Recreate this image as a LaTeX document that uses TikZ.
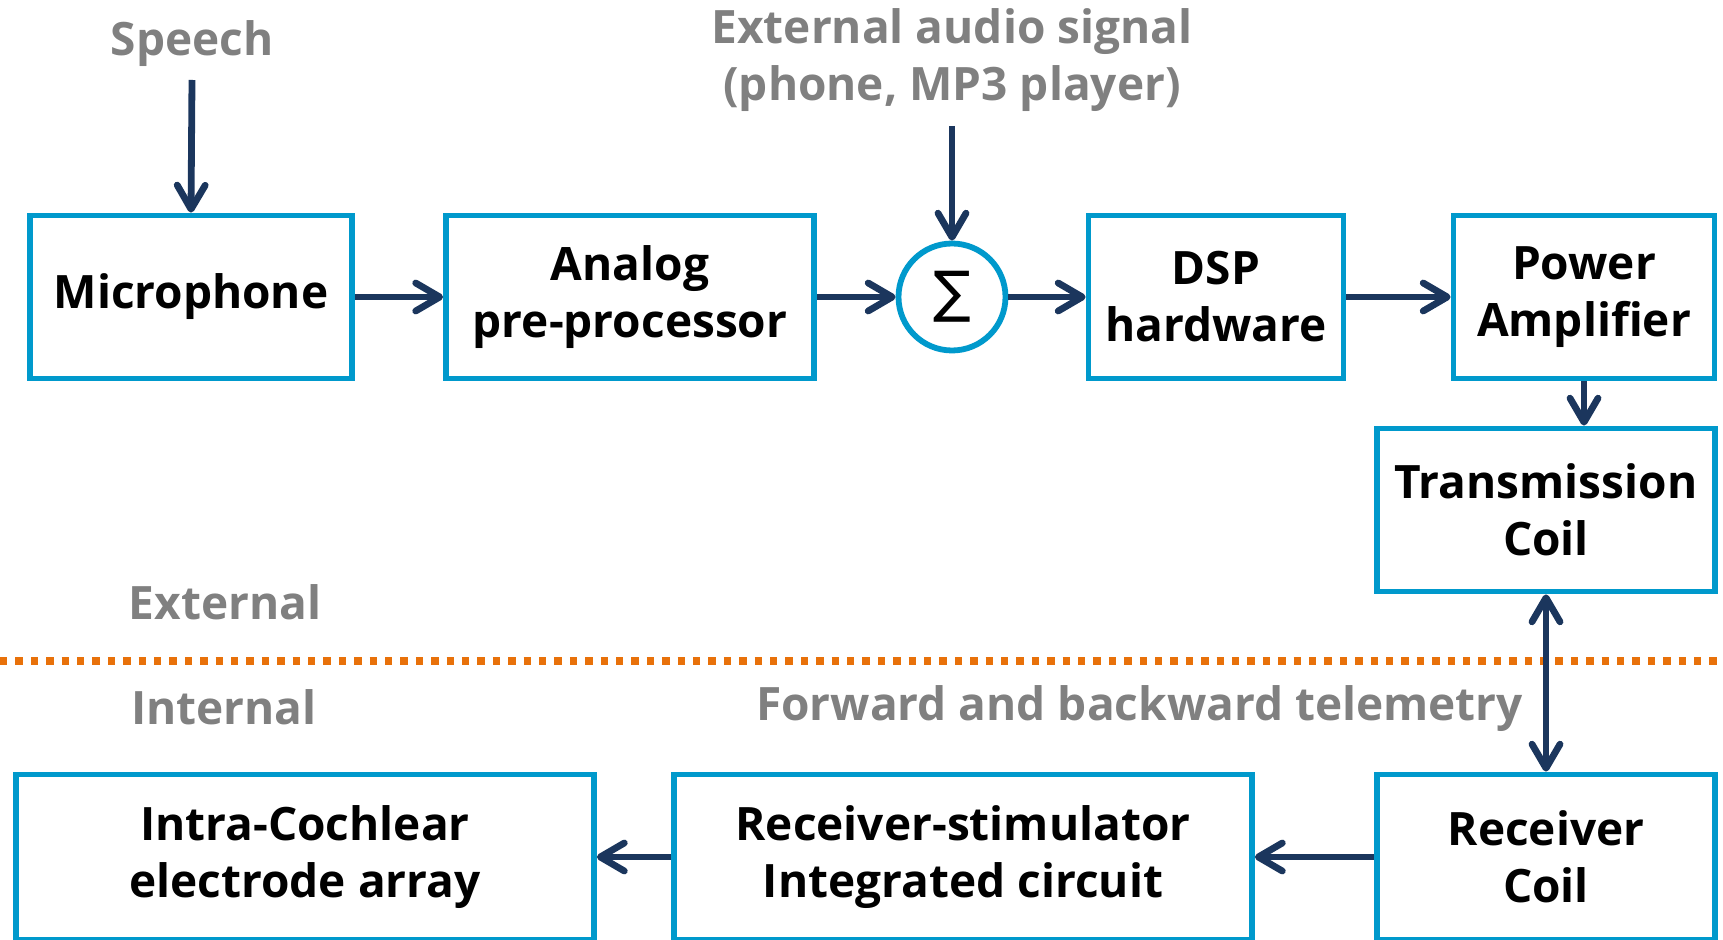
\documentclass[tikz,border=0pt]{standalone}
\usepackage{fontspec}
\setmainfont{Open Sans}[BoldFont={* Bold}]
\newfontfamily\symfont{DejaVu Sans}
\usepackage{tikz}
\usetikzlibrary{arrows.meta, positioning}
\definecolor{BoxBlue}{HTML}{0099CC}
\definecolor{ArrowNavy}{HTML}{1B365D}
\definecolor{LabelGray}{HTML}{808080}
\definecolor{Divider}{HTML}{E8710A}

\begin{document}
\begin{tikzpicture}[x=0.5pt, y=-0.5pt,
  block/.style={rectangle, draw=BoxBlue, line width=2.9pt, fill=white,
     minimum height=81.5pt, align=center, inner sep=0pt,
     font=\fontsize{23}{28.5}\selectfont\bfseries},
  summer/.style={circle, draw=BoxBlue, line width=2.9pt, fill=white,
     minimum size=53.5pt, inner sep=0pt, font=\symfont\fontsize{28}{28}\selectfont},
  tag/.style={text=LabelGray, align=center,
     font=\fontsize{23}{28.5}\selectfont\bfseries},
  flow/.style={draw=ArrowNavy, line width=3.4pt,
     -{Straight Barb[length=12pt, width=14pt, round]}},
  both/.style={flow, {Straight Barb[length=12pt, width=14pt, round]}-{Straight Barb[length=12pt, width=14pt, round]}}]
  \useasboundingbox (0,0) rectangle (1723,940);
  % external part (top row)
  \node[block, minimum width=161pt] (mic) at (191,297) {Microphone};
  \node[block, minimum width=184pt] (pre) at (630,297) {Analog\\pre-processor};
  \node[summer] (sum) at (952,297) {∑};
  \node[block, minimum width=127.5pt] (dsp) at (1216,297) {DSP\\hardware};
  \node[block, minimum width=130.5pt] (amp) at (1584,297) {Power\\Amplifier};
  \node[block, minimum width=169pt] (tx) at (1546,510) {Transmission\\Coil};
  % internal part (bottom row)
  \node[block, minimum width=169pt, minimum height=82.5pt] (rx) at (1546,857) {Receiver\\Coil};
  \node[block, minimum width=289pt, minimum height=82.5pt] (stim) at (963,857) {Receiver-stimulator\\Integrated circuit};
  \node[block, minimum width=289pt, minimum height=82.5pt] (array) at (305,857) {Intra-Cochlear\\electrode array};
  % inputs and labels
  \node[tag] (speech) at (192,44) {Speech};
  \node[tag] (ext) at (952,60) {External audio signal\\(phone, MP3 player)};
  \node[tag] (outer) at (225,602) {External};
  \node[tag] (inner) at (224,707) {Internal};
  \node[tag, anchor=east] (telem) at (1530,709) {Forward and backward telemetry};
  \coordinate (speechin) at (192,80);
  \coordinate (extin) at (952,126);
  % skin boundary
  \draw[Divider, line width=3.6pt, dash pattern=on 3.7pt off 4pt] (0,661) -- (1723,661);
  % signal path
  \draw[flow] (speechin) -- (mic.north);
  \draw[flow] (extin) -- (sum.north);
  \draw[flow] (mic) -- (pre);
  \draw[flow] (pre) -- (sum);
  \draw[flow] (sum) -- (dsp);
  \draw[flow] (dsp) -- (amp);
  \draw[flow] (amp.south) -- (amp.south |- tx.north);
  \draw[both] (tx.south) -- (rx.north);
  \draw[flow] (rx) -- (stim);
  \draw[flow] (stim) -- (array);
\end{tikzpicture}
\end{document}
